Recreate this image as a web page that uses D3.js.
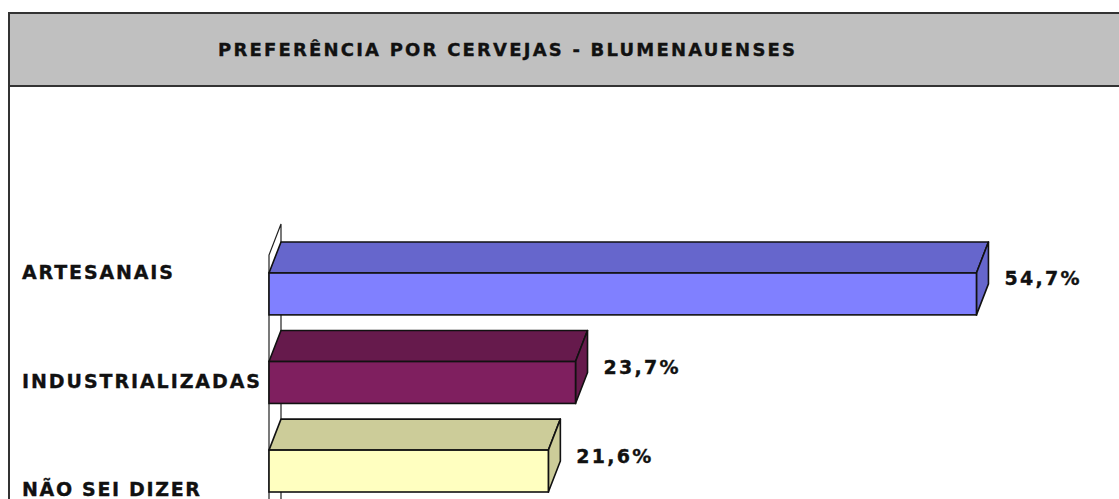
<!DOCTYPE html>
<html>
<head>
<meta charset="utf-8">
<script src="https://cdn.jsdelivr.net/npm/d3@7"></script>
<style>
  body { margin: 0; background: #fff; }
  text { font-family: "DejaVu Sans", Verdana, sans-serif; font-weight: bold; fill: #111; stroke: #111; stroke-width: 0.35px; }
</style>
</head>
<body>
<div id="chart"></div>
<script>
//chart data
var title = "PREFERÊNCIA POR CERVEJAS - BLUMENAUENSES";
var categories = ["ARTESANAIS", "INDUSTRIALIZADAS", "NÃO SEI DIZER"];
var values = [54.7, 23.7, 21.6];
var valueLabels = ["54,7%", "23,7%", "21,6%"];

//colours: front face, top/side face
var frontColors = ["#8080ff", "#7f1f5f", "#ffffc0"];
var topColors = ["#6666cc", "#661a4c", "#cccc99"];

//page size
var width = 1119,
    height = 499;

//3d depth of the bars
var dx = 12,
    dy = 31;

var svg = d3.select("#chart").append("svg")
    .attr("width", width)
    .attr("height", height);

//header box
svg.append("rect")
    .attr("x", 9).attr("y", 13)
    .attr("width", width + 20).attr("height", 73)
    .attr("fill", "#c0c0c0")
    .attr("stroke", "#333")
    .attr("stroke-width", 2);

//left frame line
svg.append("line")
    .attr("x1", 9).attr("x2", 9)
    .attr("y1", 86).attr("y2", height + 5)
    .attr("stroke", "#333")
    .attr("stroke-width", 2);

svg.append("text")
    .attr("x", 218).attr("y", 49)
    .attr("dominant-baseline", "central")
    .attr("font-size", 18)
    .attr("textLength", 577)
    .attr("lengthAdjust", "spacing")
    .text(title);

//scales
var x = d3.scaleLinear()
    .domain([0, 60])
    .range([269, 269 + 776]);

var y = d3.scaleBand()
    .domain(categories)
    .range([273, 492])
    .paddingInner(0.527)
    .paddingOuter(0);

var labelY = d3.scalePoint()
    .domain(categories)
    .range([272, 489]);

var bw = y.bandwidth();

//back wall of the chart
var wallTop = y(categories[0]) - 18;
svg.append("path")
    .attr("d", "M" + x(0) + "," + (height + 5) +
               "L" + x(0) + "," + wallTop +
               "L" + (x(0) + dx) + "," + (wallTop - dy) +
               "L" + (x(0) + dx) + "," + (height + 5) + "Z")
    .attr("fill", "#fff")
    .attr("stroke", "#222")
    .attr("stroke-width", 1.2);

//bars
var bars = svg.append("g").selectAll("g")
    .data(categories)
    .enter()
    .append("g");

bars.append("path") //top face
    .attr("d", function(d, i) {
        var y0 = y(d), x0 = x(0), x1 = x(values[i]);
        return "M" + x0 + "," + y0 + "L" + (x0 + dx) + "," + (y0 - dy) +
               "L" + (x1 + dx) + "," + (y0 - dy) + "L" + x1 + "," + y0 + "Z";
    })
    .attr("fill", function(d, i) { return topColors[i]; })
    .attr("stroke", "#111")
    .attr("stroke-width", 1.6)
    .attr("stroke-linejoin", "round");

bars.append("path") //side face
    .attr("d", function(d, i) {
        var y0 = y(d), x1 = x(values[i]);
        return "M" + x1 + "," + y0 + "L" + (x1 + dx) + "," + (y0 - dy) +
               "L" + (x1 + dx) + "," + (y0 + bw - dy) + "L" + x1 + "," + (y0 + bw) + "Z";
    })
    .attr("fill", function(d, i) { return topColors[i]; })
    .attr("stroke", "#111")
    .attr("stroke-width", 1.6)
    .attr("stroke-linejoin", "round");

bars.append("rect") //front face
    .attr("x", x(0))
    .attr("y", function(d) { return y(d); })
    .attr("width", function(d, i) { return x(values[i]) - x(0); })
    .attr("height", bw)
    .attr("fill", function(d, i) { return frontColors[i]; })
    .attr("stroke", "#111")
    .attr("stroke-width", 1.6);

//value labels
bars.append("text")
    .attr("x", function(d, i) { return x(values[i]) + 28; })
    .attr("y", function(d) { return y(d) + bw / 2 - dy / 2; })
    .attr("dominant-baseline", "central")
    .attr("font-size", 19)
    .attr("textLength", 75)
    .attr("lengthAdjust", "spacing")
    .text(function(d, i) { return valueLabels[i]; });

//category labels
var labelWidths = {"ARTESANAIS": 151, "INDUSTRIALIZADAS": 238, "NÃO SEI DIZER": 178};
svg.append("g").selectAll("text")
    .data(categories)
    .enter()
    .append("text")
    .attr("x", 22)
    .attr("y", function(d) { return labelY(d); })
    .attr("dominant-baseline", "central")
    .attr("font-size", 19)
    .attr("textLength", function(d) { return labelWidths[d]; })
    .attr("lengthAdjust", "spacing")
    .text(function(d) { return d; });
</script>
</body>
</html>
